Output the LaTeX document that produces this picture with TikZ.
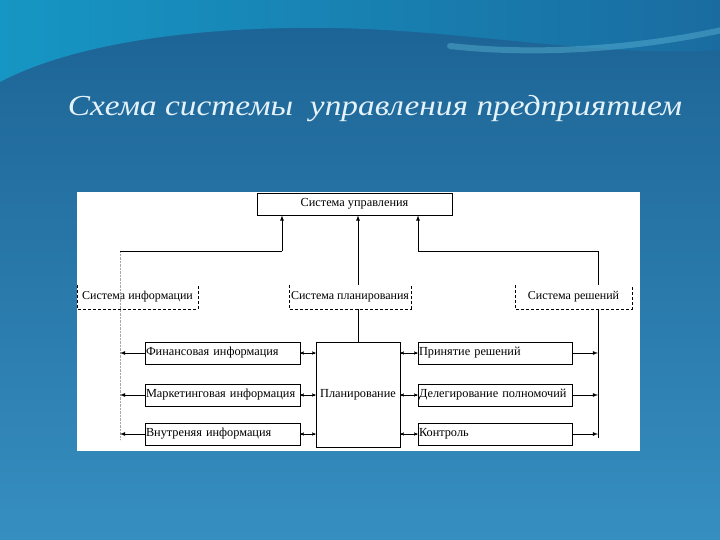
\documentclass[tikz,border=0pt]{standalone}
\usepackage{fontspec}
\setmainfont{Liberation Serif}
\usetikzlibrary{arrows,positioning}

\definecolor{bgtop}{RGB}{28,98,148}
\definecolor{bgbot}{RGB}{54,142,192}
\definecolor{wavecyan}{RGB}{22,150,196}
\definecolor{wavedark}{RGB}{26,108,160}
\definecolor{titlecol}{RGB}{228,242,250}

\begin{document}
\begin{tikzpicture}[x=1pt,y=-1pt]
    % slide background with the wave on top
    \tikzset{box/.style = {shape=rectangle,draw,thick,fill=white,inner xsep=1pt,inner ysep=2pt,
        minimum height=22pt,align=left,font=\fontsize{12.3}{13}\selectfont}}
    \tikzset{sysbox/.style = {shape=rectangle,inner sep=2pt,minimum height=23pt,
        font=\fontsize{12}{13}\selectfont}}
    \tikzset{sysline/.style = {densely dashed,thin}}
    \tikzset{pre/.style = {-latex,thick}}
    \tikzset{both/.style = {stealth'-stealth',thin}}

    \useasboundingbox (0,0) rectangle (720,540);
    \shade[top color=bgtop,bottom color=bgbot] (0,0) rectangle (720,540);
    \shade[left color=wavecyan,right color=wavedark]
        (0,0) -- (0,82) .. controls (70,45) and (190,26) .. (330,28)
        .. controls (470,30) and (600,58) .. (720,50) -- (720,0) -- cycle;
    \draw[line width=6pt,wavecyan!70!white,opacity=.45,line cap=round]
        (450,46) .. controls (540,56) and (640,48) .. (722,30);

    % title
    \node[text=titlecol,font=\fontsize{29}{32}\selectfont\itshape] (title) at (375,109)
        {\scalebox{1.15}[1]{Схема системы~ управления предприятием}};

    % white sheet of the scheme
    \fill[white] (77,192) rectangle (640,451);

    % top
    \node[box,minimum width=195pt,align=center] (upr) at (354.5,204) {Система управления};

    % three subsystems
    \node[sysbox,minimum width=121pt] (sinf)  at (137.5,297) {Система информации};
    \node[sysbox,minimum width=120pt] (splan) at (350,297)   {Система планирования};
    \node[sysbox,minimum width=117pt] (sresh) at (573.5,297) {Система решений};
    \foreach \n in {sinf,splan,sresh}
        \draw[sysline] (\n.north west) -- (\n.south west) -- (\n.south east) -- (\n.north east);

    % planning
    \node[box,minimum width=84pt,minimum height=105pt,align=center] (plan) at (358,394.5) {Планирование};

    % information
    \node[box,text width=153pt] (fin) at (222.5,353) {Финансовая информация};
    \node[box,text width=153pt] (mark) at (222.5,395) {Маркетинговая информация};
    \node[box,text width=153pt] (vnutr) at (222.5,434) {Внутреняя информация};

    % decisions
    \node[box,text width=152pt] (resh) at (495,353) {Принятие решений};
    \node[box,text width=152pt] (deleg) at (495,395) {Делегирование полномочий};
    \node[box,text width=152pt] (kontr) at (495,434) {Контроль};

    % trunks
    \coordinate (ltop) at (120,251);
    \coordinate (lbot) at (120,440);
    \coordinate (rtop) at (598,251);
    \coordinate (rbot) at (598,438);

    \draw[black!35,densely dotted] (ltop) -- (lbot);
    \draw[thick] (ltop) -- (282,251) coordinate (lup);
    \draw[pre] (lup) -- (lup |- upr.south);
    \draw[thick] (rbot) -- (rbot |- sresh.south);
    \draw[thick] (rtop |- sresh.north) -- (rtop) -- (418,251) coordinate (rup);
    \draw[pre] (rup) -- (rup |- upr.south);
    \draw[thick] (plan.north) -- (plan.north |- splan.south);
    \draw[pre] (plan.north |- splan.north) -- (plan.north |- upr.south);

    % links of the planning block
    \foreach \n in {fin,mark,vnutr} {
        \draw[both] (\n.east) -- (\n.east -| plan.west);
        \draw[pre] (\n.west) -- (\n.west -| ltop);
    }
    \foreach \n in {resh,deleg,kontr} {
        \draw[both] (\n.west) -- (\n.west -| plan.east);
        \draw[pre] (\n.east) -- (\n.east -| rtop);
    }
\end{tikzpicture}
\end{document}
